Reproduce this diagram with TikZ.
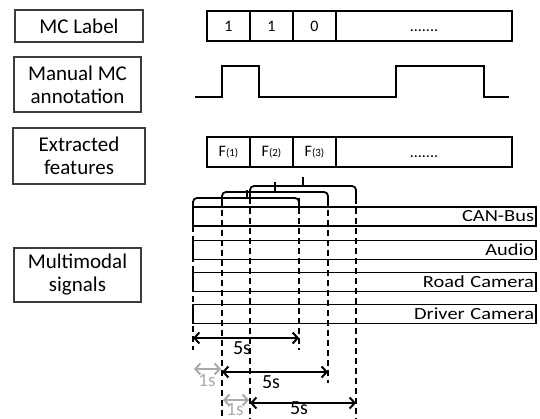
\documentclass[tikz,border=0pt]{standalone}
\usepackage{fontspec}
\setmainfont{Carlito}
\newfontfamily\widefont[FakeStretch=1.2]{Carlito}
\usetikzlibrary{arrows.meta}
\definecolor{lightg}{RGB}{170,170,170}
\definecolor{boxg}{RGB}{60,60,60}
\tikzset{
  labelbox/.style={draw=boxg, line width=1.1pt, align=center, inner sep=0pt,
    font=\fontsize{21}{23}\selectfont},
  cell/.style={draw, line width=1.6pt, minimum height=30pt, inner sep=0pt,
    font=\fontsize{16}{16}\selectfont},
  sigbar/.style={draw, line width=1.8pt, minimum height=19pt, inner sep=2pt,
    text width=339pt, align=right, font=\widefont\fontsize{17}{17}\selectfont},
  wave/.style={line width=2pt},
  guide/.style={line width=1.8pt, dash pattern=on 6pt off 4pt},
  bracket/.style={line width=1.8pt, rounded corners=4pt},
  span/.style={line width=2pt, {Straight Barb[length=5pt,width=11pt]}-{Straight Barb[length=5pt,width=11pt]}},
  shortspan/.style={span, draw=lightg},
  spanlabel/.style={font=\fontsize{20}{20}\selectfont, inner sep=0pt},
  shortlabel/.style={spanlabel, text=lightg, font=\fontsize{19}{19}\selectfont}
}
\newcommand{\feat}[1]{F{\fontsize{11}{11}\selectfont(#1)}}
\newcommand{\moredots}{\vphantom{0}.......}
\begin{document}
\begin{tikzpicture}[x=1pt,y=-1pt]
\useasboundingbox (0,0) rectangle (540,419);

% left labels
\node[labelbox, minimum width=128pt, minimum height=32pt] (mcl) at (79,26) {MC Label};
\node[labelbox, minimum width=127pt, minimum height=55pt] (man) at (77.5,84.5) {Manual MC\\annotation};
\node[labelbox, minimum width=132pt, minimum height=56pt] (ext) at (79,156) {Extracted\\features};
\node[labelbox, minimum width=127pt, minimum height=54pt] (mult) at (77.5,275) {Multimodal\\signals};

% MC label row
\node[cell, minimum width=43pt] (l1) at (228.5,26) {1};
\node[cell, minimum width=43pt] (l2) at (271.5,26) {1};
\node[cell, minimum width=43pt] (l3) at (314.5,26) {0};
\node[cell, minimum width=176pt] (l4) at (424,26) {\moredots};

% annotation wave
\draw[wave] (195,97) -- (222,97) -- (222,66) -- (259,66) -- (259,97) -- (396,97)
  -- (396,66) -- (484,66) -- (484,97) -- (509,97);

% features row
\node[cell, minimum width=43pt] (f1) at (228.5,152) {\feat{1}};
\node[cell, minimum width=43pt] (f2) at (271.5,152) {\feat{2}};
\node[cell, minimum width=43pt] (f3) at (314.5,152) {\feat{3}};
\node[cell, minimum width=176pt] (f4) at (424,152) {\moredots};

% signal bars
\node[sigbar] (can) at (364.5,216.5) {CAN-Bus};
\node[sigbar] (aud) at (364.5,250) {Audio};
\node[sigbar] (road) at (364.5,282) {Road Camera};
\node[sigbar] (drv) at (364.5,314) {Driver Camera};

% dashed guides
\draw[guide] (193,226) -- (193,350);
\draw[guide] (222,200) -- (222,419);
\draw[guide] (250,198) -- (250,419);
\draw[guide] (299,198) -- (299,350);
\draw[guide] (328,200) -- (328,383);
\draw[guide] (356,198) -- (356,419);

% brackets
\draw[bracket] (193,208) -- (193,198) -- (299,198) -- (299,207);
\draw[line width=2.2pt] (247,198) -- (247,190);
\draw[bracket] (222,201) -- (222,192) -- (328,192) -- (328,201);
\draw[line width=2.2pt] (275,192) -- (275,182);
\draw[bracket] (250,199) -- (250,186) -- (356,186) -- (356,199);
\draw[line width=2.2pt] (303,186) -- (303,177);

% spans
\coordinate (a1l) at (193,338); \coordinate (a1r) at (299,338);
\coordinate (a2l) at (222,372); \coordinate (a2r) at (328,372);
\coordinate (a3l) at (250,403); \coordinate (a3r) at (356,403);
\coordinate (g1l) at (194,369); \coordinate (g1r) at (221,369);
\coordinate (g2l) at (223,400); \coordinate (g2r) at (249,400);
\draw[span] (a1l) -- (a1r);
\draw[span] (a2l) -- (a2r);
\draw[span] (a3l) -- (a3r);
\draw[shortspan] (g1l) -- (g1r);
\draw[shortspan] (g2l) -- (g2r);
\node[spanlabel] (t1) at (242,348) {5s};
\node[spanlabel] (t2) at (271,382) {5s};
\node[spanlabel] (t3) at (299,408.5) {5s};
\node[shortlabel] (s1) at (207,380) {1s};
\node[shortlabel] (s2) at (235,409.5) {1s};
\end{tikzpicture}
\end{document}
